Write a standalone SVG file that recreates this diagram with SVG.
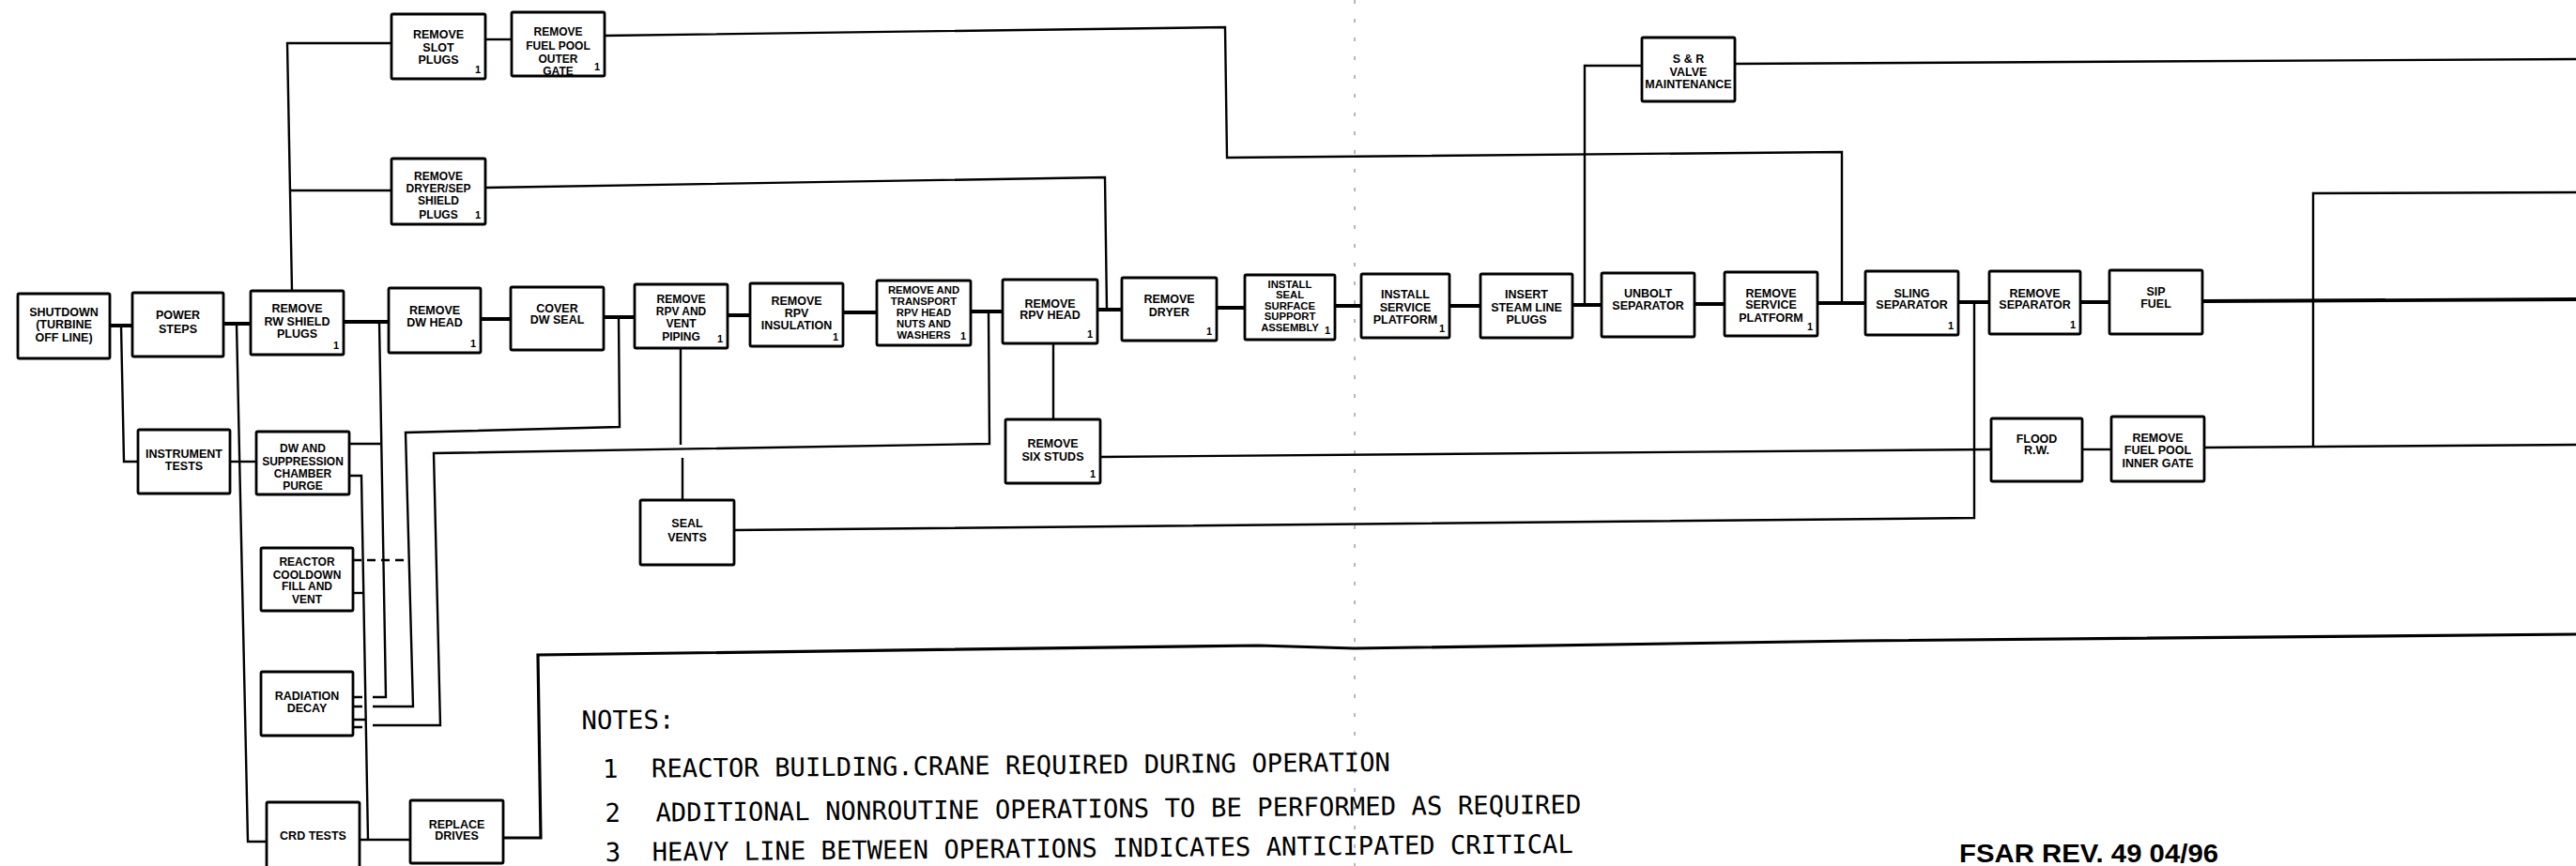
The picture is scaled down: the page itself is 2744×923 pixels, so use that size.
<svg xmlns="http://www.w3.org/2000/svg" width="2744" height="923" viewBox="0 0 2744 923">
<style>
.bg{fill:#fff}
.b{fill:#fff;stroke:#000;stroke-width:2.8}
.c{fill:none;stroke:#000;stroke-width:2.4;stroke-linejoin:miter}
.h{stroke-width:3.8}
.m{stroke-width:3.2}
.d{stroke-dasharray:9 6}
.fold{fill:none;stroke:#888;stroke-width:1.2;stroke-dasharray:4 16}
.t{font-family:"Liberation Sans",Arial,sans-serif;font-weight:bold;font-size:12.5px;text-anchor:middle;fill:#000}
.t4{font-size:12px}
.t5{font-size:11.3px}
.n{font-family:"Liberation Sans",Arial,sans-serif;font-weight:bold;font-size:11px;text-anchor:middle;fill:#000}
.nt{font-family:"DejaVu Sans Mono",monospace;font-size:27.4px;fill:#000}
.fs{font-family:"Liberation Sans",Arial,sans-serif;font-weight:bold;font-size:28px;fill:#000}
</style>
<rect class="bg" x="0" y="0" width="2744" height="923"/>
<path class="fold" d="M1443,0V923"/>
<g id="connectors">
<path class="c h" d="M117,347H141M238,345H267M366,343H414M512,340H544M643,338H676M775,336H799M898,333H934M1034,332H1068M1169,330H1195M1296,328H1326M1422,326H1450M1544,326H1577M1675,325H1706M1805,324H1837M1936,323H1987M2086,322H2119M2216,322H2247M2346,321L2744,319"/>
<path class="c" d="M129,347L132,492H147"/>
<path class="c" d="M252,345L264,897H284"/>
<path class="c" d="M245,492H273"/>
<path class="c" d="M311,310L306,46H417"/>
<path class="c" d="M308,203H417"/>
<path class="c" d="M517,42H545"/>
<path class="c" d="M644,38L1305,29L1307,168L1962,162V323"/>
<path class="c" d="M517,200L1177,189L1179,330"/>
<path class="c" d="M404,343L411,743H397"/>
<path class="c" d="M372,473H405"/>
<path class="c" d="M659,338L660,455L432,461L440,753H397"/>
<path class="c" d="M1053,333L1054,473L462,483L469,773H397"/>
<path class="c" d="M725,371V474M727,488V533"/>
<path class="c" d="M782,565L2103,552V322"/>
<path class="c" d="M1172,487L2121,479"/>
<path class="c" d="M1122,366V447"/>
<path class="c" d="M2218,479H2249"/>
<path class="c" d="M2348,477L2744,474"/>
<path class="c" d="M2744,205L2464,206V477"/>
<path class="c" d="M1688,325V70H1749"/>
<path class="c" d="M1848,68L2744,63"/>
<path class="c" d="M372,507H385L392,895"/>
<path class="c" d="M383,895H437"/>
<path class="c" d="M376,632H388"/>
<path class="c d" d="M376,597H433"/>
<path class="c" d="M376,743H386M376,753H386M376,767H390M376,775H386"/>
<path class="c m" d="M536,893H576L573,698L1340,688L1443,691L1980,683L2744,676"/>
</g>
<g id="n1"><rect class="b" x="19" y="313" width="98" height="69" rx="1.5"/><text class="t" x="68" y="336.5">SHUTDOWN</text><text class="t" x="68" y="349.5">(TURBINE</text><text class="t" x="68" y="363.5">OFF LINE)</text></g>
<g id="n2"><rect class="b" x="141" y="312" width="97" height="68" rx="1.5"/><text class="t" x="189.5" y="339.5">POWER</text><text class="t" x="189.5" y="354.5">STEPS</text></g>
<g id="n3"><rect class="b" x="267" y="310" width="99" height="68" rx="1.5"/><text class="t" x="316.5" y="333">REMOVE</text><text class="t" x="316.5" y="347">RW SHIELD</text><text class="t" x="316.5" y="360">PLUGS</text><text class="n" x="358" y="372">1</text></g>
<g id="n4"><rect class="b" x="414" y="307" width="98" height="69" rx="1.5"/><text class="t" x="463" y="335">REMOVE</text><text class="t" x="463" y="348">DW HEAD</text><text class="n" x="504" y="370">1</text></g>
<g id="n5"><rect class="b" x="544" y="306" width="99" height="67" rx="1.5"/><text class="t" x="593.5" y="333">COVER</text><text class="t" x="593.5" y="345">DW SEAL</text></g>
<g id="n6"><rect class="b" x="417" y="15" width="100" height="69" rx="1.5"/><text class="t" x="467" y="41">REMOVE</text><text class="t" x="467" y="55">SLOT</text><text class="t" x="467" y="68">PLUGS</text><text class="n" x="509" y="78">1</text></g>
<g id="n7"><rect class="b" x="545" y="13" width="99" height="68" rx="1.5"/><text class="t t4" x="594.5" y="38">REMOVE</text><text class="t t4" x="594.5" y="53">FUEL POOL</text><text class="t t4" x="594.5" y="67">OUTER</text><text class="t t4" x="594.5" y="80">GATE</text><text class="n" x="636" y="75">1</text></g>
<g id="n8"><rect class="b" x="417" y="169" width="100" height="70" rx="1.5"/><text class="t t4" x="467" y="192">REMOVE</text><text class="t t4" x="467" y="205">DRYER/SEP</text><text class="t t4" x="467" y="218">SHIELD</text><text class="t t4" x="467" y="233">PLUGS</text><text class="n" x="509" y="233">1</text></g>
<g id="n9"><rect class="b" x="147" y="458" width="98" height="68" rx="1.5"/><text class="t" x="196" y="488">INSTRUMENT</text><text class="t" x="196" y="501">TESTS</text></g>
<g id="n10"><rect class="b" x="273" y="460" width="99" height="67" rx="1.5"/><text class="t t4" x="322.5" y="482">DW AND</text><text class="t t4" x="322.5" y="496">SUPPRESSION</text><text class="t t4" x="322.5" y="509">CHAMBER</text><text class="t t4" x="322.5" y="522">PURGE</text></g>
<g id="n11"><rect class="b" x="278" y="584" width="98" height="67" rx="1.5"/><text class="t t4" x="327" y="603">REACTOR</text><text class="t t4" x="327" y="617">COOLDOWN</text><text class="t t4" x="327" y="629">FILL AND</text><text class="t t4" x="327" y="643">VENT</text></g>
<g id="n12"><rect class="b" x="278" y="716" width="98" height="68" rx="1.5"/><text class="t" x="327" y="746">RADIATION</text><text class="t" x="327" y="759">DECAY</text></g>
<g id="n13"><rect class="b" x="284" y="855" width="99" height="72" rx="1.5"/><text class="t" x="333.5" y="895">CRD TESTS</text></g>
<g id="n14"><rect class="b" x="437" y="853" width="99" height="67" rx="1.5"/><text class="t" x="486.5" y="883">REPLACE</text><text class="t" x="486.5" y="895">DRIVES</text></g>
<g id="n15"><rect class="b" x="676" y="303" width="99" height="68" rx="1.5"/><text class="t t4" x="725.5" y="323">REMOVE</text><text class="t t4" x="725.5" y="336">RPV AND</text><text class="t t4" x="725.5" y="349">VENT</text><text class="t t4" x="725.5" y="363">PIPING</text><text class="n" x="767" y="365">1</text></g>
<g id="n16"><rect class="b" x="799" y="302" width="99" height="67" rx="1.5"/><text class="t" x="848.5" y="325">REMOVE</text><text class="t" x="848.5" y="338">RPV</text><text class="t" x="848.5" y="351">INSULATION</text><text class="n" x="890" y="363">1</text></g>
<g id="n17"><rect class="b" x="934" y="299" width="100" height="69" rx="1.5"/><text class="t t5" x="984" y="313">REMOVE AND</text><text class="t t5" x="984" y="325">TRANSPORT</text><text class="t t5" x="984" y="337">RPV HEAD</text><text class="t t5" x="984" y="349">NUTS AND</text><text class="t t5" x="984" y="361">WASHERS</text><text class="n" x="1026" y="362">1</text></g>
<g id="n18"><rect class="b" x="1068" y="298" width="101" height="68" rx="1.5"/><text class="t" x="1118.5" y="328">REMOVE</text><text class="t" x="1118.5" y="340">RPV HEAD</text><text class="n" x="1161" y="360">1</text></g>
<g id="n19"><rect class="b" x="1195" y="296" width="101" height="67" rx="1.5"/><text class="t" x="1245.5" y="323">REMOVE</text><text class="t" x="1245.5" y="337">DRYER</text><text class="n" x="1288" y="357">1</text></g>
<g id="n20"><rect class="b" x="1326" y="293" width="96" height="69" rx="1.5"/><text class="t t5" x="1374" y="306.5">INSTALL</text><text class="t t5" x="1374" y="318">SEAL</text><text class="t t5" x="1374" y="329.5">SURFACE</text><text class="t t5" x="1374" y="341">SUPPORT</text><text class="t t5" x="1374" y="352.5">ASSEMBLY</text><text class="n" x="1414" y="356">1</text></g>
<g id="n21"><rect class="b" x="1450" y="292" width="94" height="68" rx="1.5"/><text class="t" x="1497" y="318">INSTALL</text><text class="t" x="1497" y="332">SERVICE</text><text class="t" x="1497" y="345">PLATFORM</text><text class="n" x="1536" y="354">1</text></g>
<g id="n22"><rect class="b" x="1577" y="292" width="98" height="68" rx="1.5"/><text class="t" x="1626" y="318">INSERT</text><text class="t" x="1626" y="332">STEAM LINE</text><text class="t" x="1626" y="345">PLUGS</text></g>
<g id="n23"><rect class="b" x="1706" y="291" width="99" height="68" rx="1.5"/><text class="t" x="1755.5" y="317">UNBOLT</text><text class="t" x="1755.5" y="330">SEPARATOR</text></g>
<g id="n24"><rect class="b" x="1837" y="290" width="99" height="68" rx="1.5"/><text class="t" x="1886.5" y="317">REMOVE</text><text class="t" x="1886.5" y="329">SERVICE</text><text class="t" x="1886.5" y="343">PLATFORM</text><text class="n" x="1928" y="352">1</text></g>
<g id="n25"><rect class="b" x="1749" y="40" width="99" height="68" rx="1.5"/><text class="t" x="1798.5" y="67">S &amp; R</text><text class="t" x="1798.5" y="81">VALVE</text><text class="t" x="1798.5" y="94">MAINTENANCE</text></g>
<g id="n26"><rect class="b" x="1987" y="289" width="99" height="68" rx="1.5"/><text class="t" x="2036.5" y="317">SLING</text><text class="t" x="2036.5" y="329">SEPARATOR</text><text class="n" x="2078" y="351">1</text></g>
<g id="n27"><rect class="b" x="2119" y="289" width="97" height="67" rx="1.5"/><text class="t" x="2167.5" y="317">REMOVE</text><text class="t" x="2167.5" y="329">SEPARATOR</text><text class="n" x="2208" y="350">1</text></g>
<g id="n28"><rect class="b" x="2247" y="288" width="99" height="68" rx="1.5"/><text class="t" x="2296.5" y="315">SIP</text><text class="t" x="2296.5" y="328">FUEL</text></g>
<g id="n29"><rect class="b" x="2121" y="446" width="97" height="67" rx="1.5"/><text class="t" x="2169.5" y="472">FLOOD</text><text class="t" x="2169.5" y="484">R.W.</text></g>
<g id="n30"><rect class="b" x="2249" y="444" width="99" height="69" rx="1.5"/><text class="t" x="2298.5" y="471">REMOVE</text><text class="t" x="2298.5" y="484">FUEL POOL</text><text class="t" x="2298.5" y="498">INNER GATE</text></g>
<g id="n31"><rect class="b" x="682" y="533" width="100" height="69" rx="1.5"/><text class="t" x="732" y="562">SEAL</text><text class="t" x="732" y="577">VENTS</text></g>
<g id="n32"><rect class="b" x="1071" y="447" width="101" height="68" rx="1.5"/><text class="t" x="1121.5" y="477">REMOVE</text><text class="t" x="1121.5" y="491">SIX STUDS</text><text class="n" x="1164" y="509">1</text></g>
<g id="notes" transform="rotate(-0.5 650 830)">
<text class="nt" x="620" y="777">NOTES:</text>
<text class="nt" x="642" y="829">1</text>
<text class="nt" x="694" y="829" textLength="787" lengthAdjust="spacingAndGlyphs">REACTOR BUILDING.CRANE REQUIRED DURING OPERATION</text>
<text class="nt" x="644" y="876">2</text>
<text class="nt" x="698" y="876" textLength="986" lengthAdjust="spacingAndGlyphs">ADDITIONAL NONROUTINE OPERATIONS TO BE PERFORMED AS REQUIRED</text>
<text class="nt" x="644" y="918">3</text>
<text class="nt" x="694" y="918" textLength="981" lengthAdjust="spacingAndGlyphs">HEAVY LINE BETWEEN OPERATIONS INDICATES ANTICIPATED CRITICAL</text>
</g>
<text class="fs" x="2087" y="919" textLength="276" lengthAdjust="spacingAndGlyphs">FSAR REV. 49  04/96</text>
</svg>
